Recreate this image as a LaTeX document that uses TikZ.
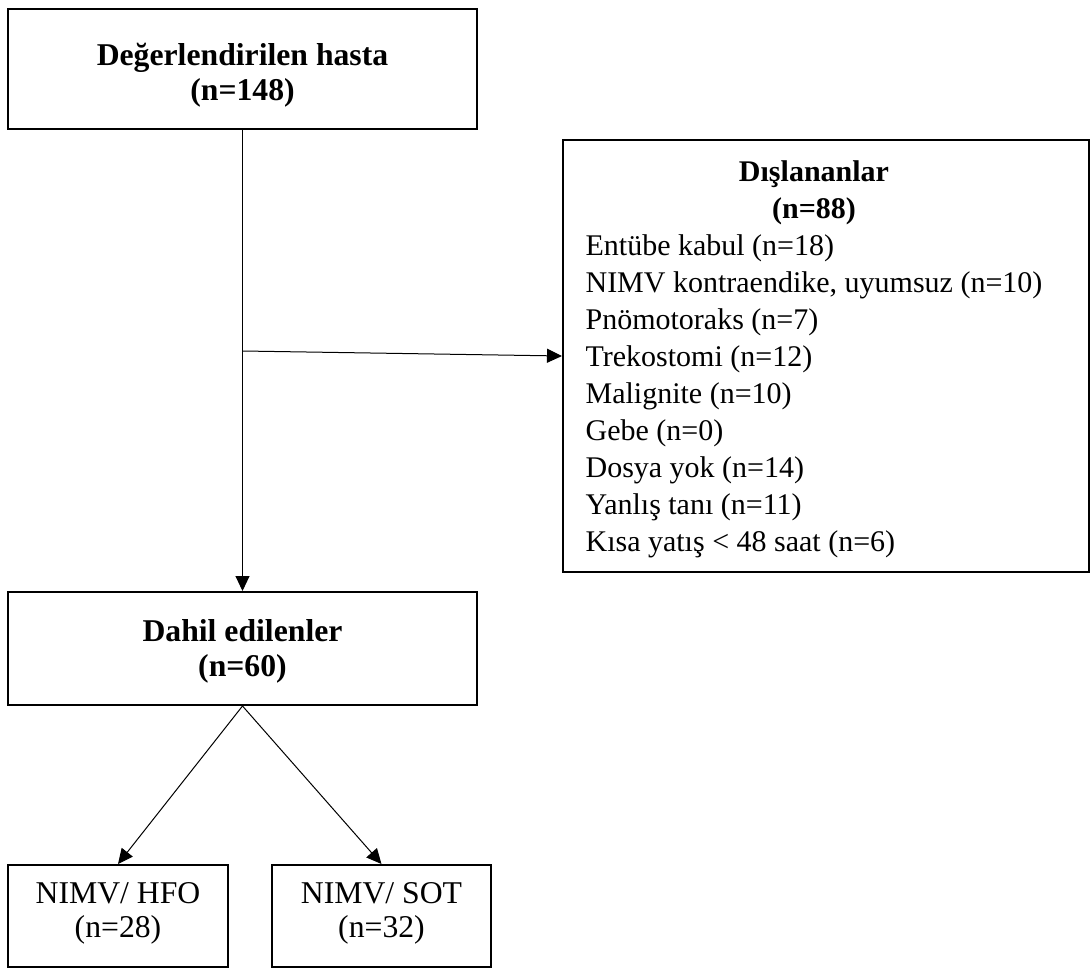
\documentclass[tikz,border=0pt]{standalone}
\usepackage{fontspec}
\setmainfont{Liberation Serif}
\usetikzlibrary{arrows.meta}
\begin{document}
\begin{tikzpicture}[x=1pt,y=-1pt,
  box/.style={draw, line width=2pt, inner sep=0pt},
  boldtxt/.style={inner sep=0pt, align=center, font=\fontsize{31.7}{35}\selectfont\bfseries},
  plaintxt/.style={inner sep=0pt, align=center, font=\fontsize{31.7}{34}\selectfont},
  conn/.style={line width=1pt, -{Triangle[length=15pt,width=14pt]}},
]
\useasboundingbox (0,0) rectangle (1090,968);
% boxes
\node[box, minimum width=469pt, minimum height=120pt] (eval) at (242.5,69) {};
\node[boldtxt] (evaltxt) at (242.5,75) {Değerlendirilen hasta\\(n=148)};
\node[box, minimum width=469pt, minimum height=113pt] (dahil) at (242.5,648.5) {};
\node[boldtxt] (dahiltxt) at (242.5,651) {Dahil edilenler\\(n=60)};
\node[box, minimum width=526pt, minimum height=432pt] (excl) at (826,356) {};
\node[anchor=north, inner sep=0pt, font=\fontsize{30}{37}\selectfont] (excltxt) at (814,155) {%
\begin{tabular}{@{}l@{}}
\multicolumn{1}{@{}c@{}}{\bfseries Dışlananlar}\\
\multicolumn{1}{@{}c@{}}{\bfseries (n=88)}\\
Entübe kabul (n=18)\\
NIMV kontraendike, uyumsuz (n=10)\\
Pnömotoraks (n=7)\\
Trekostomi (n=12)\\
Malignite (n=10)\\
Gebe (n=0)\\
Dosya yok (n=14)\\
Yanlış tanı (n=11)\\
Kısa yatış < 48 saat (n=6)
\end{tabular}};
\node[box, minimum width=220pt, minimum height=102pt] (hfo) at (118,916) {};
\node[plaintxt] (hfotxt) at (118,913) {NIMV/ HFO\\(n=28)};
\node[box, minimum width=219pt, minimum height=102pt] (sot) at (381.5,916) {};
\node[plaintxt] (sottxt) at (381.5,913) {NIMV/ SOT\\(n=32)};
% connectors
\coordinate (branch) at (242.5,351);
\draw[conn] (eval.south) -- (dahil.north);
\draw[conn] (branch) -- (excl.west);
\draw[conn] (dahil.south) -- (hfo.north);
\draw[conn] (dahil.south) -- (sot.north);
\end{tikzpicture}
\end{document}
